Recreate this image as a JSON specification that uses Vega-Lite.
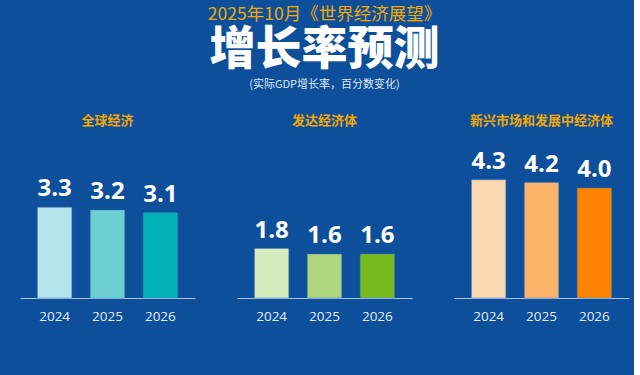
{
 "$schema": "https://vega.github.io/schema/vega-lite/v6.json",
 "background": "#0d4f9b",
 "padding": {"left": 20, "top": 5, "right": 5, "bottom": 53},
 "config": {"view": {"stroke": null}, "font": "Noto Sans CJK SC"},
 "data": {"values": [
  {"region": "全球经济", "year": 2024, "value": 3.3},
  {"region": "全球经济", "year": 2025, "value": 3.2},
  {"region": "全球经济", "year": 2026, "value": 3.1},
  {"region": "发达经济体", "year": 2024, "value": 1.8},
  {"region": "发达经济体", "year": 2025, "value": 1.6},
  {"region": "发达经济体", "year": 2026, "value": 1.6},
  {"region": "新兴市场和发展中经济体", "year": 2024, "value": 4.3},
  {"region": "新兴市场和发展中经济体", "year": 2025, "value": 4.2},
  {"region": "新兴市场和发展中经济体", "year": 2026, "value": 4.0}
 ]},
 "title": {"text": "2025年10月《世界经济展望》", "color": "#f5a800", "fontSize": 17.5, "fontWeight": "normal", "anchor": "middle", "offset": 4},
 "vconcat": [{
  "title": {"text": "增长率预测", "subtitle": "(实际GDP增长率，百分数变化)", "fontSize": 46, "color": "white", "fontWeight": 900, "subtitleColor": "#dfe8f3", "subtitleFontSize": 11, "subtitlePadding": 5, "offset": 24, "anchor": "middle"},
  "spacing": 42,
  "resolve": {"scale": {"color": "independent"}},
  "hconcat": [
   {
    "title": {"text": "全球经济", "color": "#f5a800", "fontSize": 13, "fontWeight": "bold", "anchor": "middle", "offset": 5},
    "width": 175, "height": 165,
    "transform": [{"filter": "datum.region === '全球经济'"}],
    "encoding": {
     "x": {"field": "year", "type": "ordinal", "scale": {"paddingInner": 0.35, "paddingOuter": 0.33}, "axis": {"title": null, "labelAngle": 0, "labelColor": "#e6edf6", "labelFontSize": 13.5, "labelFont": "Open Sans", "ticks": false, "domainColor": "#a9c4e4", "labelPadding": 11, "grid": false}},
     "y": {"field": "value", "type": "quantitative", "scale": {"domain": [0, 6]}, "axis": null}
    },
    "layer": [
     {"mark": {"type": "bar", "stroke": "#3f7fb8", "strokeWidth": 0.5}, "encoding": {"color": {"field": "year", "type": "nominal", "scale": {"domain": [2024, 2025, 2026], "range": ["#b3e5ea", "#6ecfd3", "#00b2b5"]}, "legend": null}}},
     {"mark": {"type": "text", "dy": -6, "baseline": "bottom", "font": "Open Sans", "fontWeight": "bold", "fontSize": 24, "color": "white"}, "encoding": {"text": {"field": "value", "type": "quantitative", "format": ".1f"}}}
    ]
   },
   {
    "title": {"text": "发达经济体", "color": "#f5a800", "fontSize": 13, "fontWeight": "bold", "anchor": "middle", "offset": 5},
    "width": 175, "height": 165,
    "transform": [{"filter": "datum.region === '发达经济体'"}],
    "encoding": {
     "x": {"field": "year", "type": "ordinal", "scale": {"paddingInner": 0.35, "paddingOuter": 0.33}, "axis": {"title": null, "labelAngle": 0, "labelColor": "#e6edf6", "labelFontSize": 13.5, "labelFont": "Open Sans", "ticks": false, "domainColor": "#a9c4e4", "labelPadding": 11, "grid": false}},
     "y": {"field": "value", "type": "quantitative", "scale": {"domain": [0, 6]}, "axis": null}
    },
    "layer": [
     {"mark": {"type": "bar", "stroke": "#3f7fb8", "strokeWidth": 0.5}, "encoding": {"color": {"field": "year", "type": "nominal", "scale": {"domain": [2024, 2025, 2026], "range": ["#d6ebbe", "#add67f", "#76bc21"]}, "legend": null}}},
     {"mark": {"type": "text", "dy": -6, "baseline": "bottom", "font": "Open Sans", "fontWeight": "bold", "fontSize": 24, "color": "white"}, "encoding": {"text": {"field": "value", "type": "quantitative", "format": ".1f"}}}
    ]
   },
   {
    "title": {"text": "新兴市场和发展中经济体", "color": "#f5a800", "fontSize": 13, "fontWeight": "bold", "anchor": "middle", "offset": 5},
    "width": 175, "height": 165,
    "transform": [{"filter": "datum.region === '新兴市场和发展中经济体'"}],
    "encoding": {
     "x": {"field": "year", "type": "ordinal", "scale": {"paddingInner": 0.35, "paddingOuter": 0.33}, "axis": {"title": null, "labelAngle": 0, "labelColor": "#e6edf6", "labelFontSize": 13.5, "labelFont": "Open Sans", "ticks": false, "domainColor": "#a9c4e4", "labelPadding": 11, "grid": false}},
     "y": {"field": "value", "type": "quantitative", "scale": {"domain": [0, 6]}, "axis": null}
    },
    "layer": [
     {"mark": {"type": "bar", "stroke": "#3f7fb8", "strokeWidth": 0.5}, "encoding": {"color": {"field": "year", "type": "nominal", "scale": {"domain": [2024, 2025, 2026], "range": ["#fdd9b3", "#fcb36a", "#ff8200"]}, "legend": null}}},
     {"mark": {"type": "text", "dy": -6, "baseline": "bottom", "font": "Open Sans", "fontWeight": "bold", "fontSize": 24, "color": "white"}, "encoding": {"text": {"field": "value", "type": "quantitative", "format": ".1f"}}}
    ]
   }
  ]
 }]
}
